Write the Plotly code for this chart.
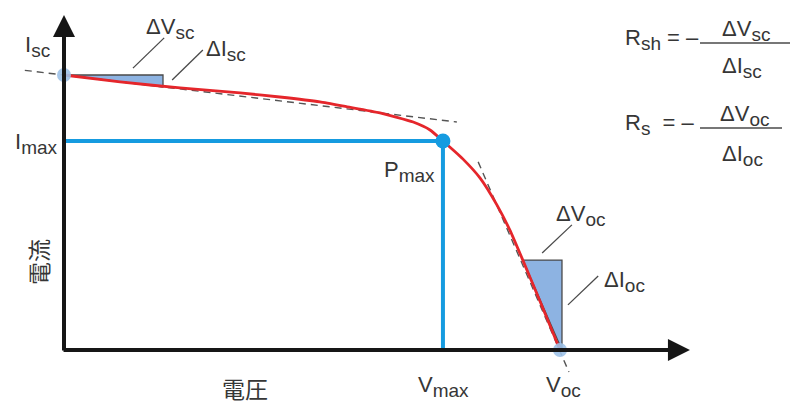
import plotly.graph_objects as go

W, H = 792, 408

# ---- data (normalised voltage V/Voc and current I/Isc) ----
voltage = [0.0, 0.113, 0.234, 0.355, 0.435, 0.516, 0.571, 0.637, 0.704, 0.738, 0.764,
           0.804, 0.839, 0.873, 0.899, 0.925, 0.962, 1.0]
current = [1.0, 0.975, 0.953, 0.935, 0.920, 0.902, 0.884, 0.862, 0.829, 0.800, 0.760,
           0.695, 0.625, 0.527, 0.436, 0.327, 0.167, 0.0]
v_max, i_max = 0.764, 0.760
v_oc, i_sc = 1.0, 1.0
# tangent lines
tan_sc_v = [-0.079, 0.792]
tan_sc_i = [1.017, 0.829]
tan_oc_v = [0.835, 1.018]
tan_oc_i = [0.684, -0.080]
# slope triangles
tri_sc_v = [0.0, 0.1996, 0.1996, 0.0]
tri_sc_i = [1.0, 1.0, 0.956, 1.0]
tri_oc_v = [0.925, 1.004, 1.004, 0.925]
tri_oc_i = [0.327, 0.327, 0.0, 0.327]
# leader lines (start, end)
leaders = {
    "dVsc": ([0.139, 0.202], [1.025, 1.135]),
    "dIsc": ([0.218, 0.280], [0.982, 1.091]),
    "dVoc": ([0.964, 1.024], [0.353, 0.455]),
    "dIoc": ([1.016, 1.077], [0.164, 0.269]),
}
# axis extents
x_axis_end = 1.262
y_axis_end = 1.218

X0, XPX = 64, 496.0   # pixel of V=0, px per unit
Y0, YPX = 350, 275.0
x_range = [(0 - X0) / XPX, (W - X0) / XPX]
y_range = [(Y0 - H) / YPX, Y0 / YPX]

FONT = "Liberation Sans Narrow, Arial Narrow, Liberation Sans, sans-serif"
CJK = "Noto Sans CJK JP"
TXT = "#363636"
RED = "#e5262b"
BLUE = "#159be0"
LBLUE = "#9fc2e8"
TRI = "#8db3e2"

fig = go.Figure()

# triangles
for tv, ti in [(tri_sc_v, tri_sc_i), (tri_oc_v, tri_oc_i)]:
    fig.add_trace(go.Scatter(x=tv, y=ti, mode="lines", fill="toself",
                             fillcolor=TRI, line=dict(color="#4a4a4a", width=1.3),
                             hoverinfo="skip"))
# tangents
for tv, ti in [(tan_sc_v, tan_sc_i), (tan_oc_v, tan_oc_i)]:
    fig.add_trace(go.Scatter(x=tv, y=ti, mode="lines",
                             line=dict(color="#555555", width=1.4, dash="7px,5px"),
                             hoverinfo="skip"))
# leader lines
for lv, li in leaders.values():
    fig.add_trace(go.Scatter(x=lv, y=li, mode="lines",
                             line=dict(color="#4a4a4a", width=1.3), hoverinfo="skip"))
# Imax / Vmax lines
fig.add_trace(go.Scatter(x=[0, v_max, v_max], y=[i_max, i_max, 0], mode="lines",
                         line=dict(color=BLUE, width=4), hoverinfo="skip"))
# I-V curve
fig.add_trace(go.Scatter(x=voltage, y=current, mode="lines",
                         line=dict(color=RED, width=2.8, shape="spline", smoothing=0.5),
                         hoverinfo="skip"))
# points
fig.add_trace(go.Scatter(x=[0, v_oc], y=[i_sc, 0], mode="markers",
                         marker=dict(color=LBLUE, size=14, opacity=0.9), hoverinfo="skip"))
fig.add_trace(go.Scatter(x=[v_max], y=[i_max], mode="markers",
                         marker=dict(color=BLUE, size=15), hoverinfo="skip"))

# axes with arrows
for (hx, hy, tx, ty) in [(x_axis_end, 0, -0.004, 0), (0, y_axis_end, 0, -0.007)]:
    fig.add_annotation(x=hx, y=hy, ax=tx, ay=ty, xref="x", yref="y", axref="x", ayref="y",
                       showarrow=True, arrowhead=2, arrowsize=1.1, arrowwidth=4,
                       arrowcolor="#161616", text="")


def sub(s, px=19):
    return f"<sub><span style='font-size:{px}px'>{s}</span></sub>"


def lab(text, px, py, size=22, family=FONT, angle=0, xanchor="center"):
    fig.add_annotation(x=px / W, y=1 - py / H, xref="paper", yref="paper",
                       text=text, showarrow=False, textangle=angle,
                       xanchor=xanchor, yanchor="middle",
                       font=dict(family=family, size=size, color=TXT))


lab("I" + sub("sc"), 37, 46)
lab("I" + sub("max"), 36, 143)
lab("P" + sub("max"), 409, 171)
lab("V" + sub("max"), 443, 386)
lab("V" + sub("oc"), 563, 386)
lab("ΔV" + sub("sc"), 170, 29)
lab("ΔI" + sub("sc"), 226, 50)
lab("ΔV" + sub("oc"), 580, 215)
lab("ΔI" + sub("oc"), 624, 281)
lab("電流", 38, 262, size=23, family=CJK, angle=-90)
lab("電圧", 245, 388, size=23, family=CJK)

# formulas
lab("R" + sub("sh") + " = –", 623, 39, xanchor="left")
lab("ΔV" + sub("sc"), 746, 31)
lab("ΔI" + sub("sc"), 742, 68)
lab("R" + sub("s") + "  = –", 623, 124, xanchor="left")
lab("ΔV" + sub("oc"), 744, 115)
lab("ΔI" + sub("oc"), 742, 155)
for (x1, x2, yy) in [(700, 790, 43), (700, 782, 128)]:
    fig.add_shape(type="line", xref="paper", yref="paper", x0=x1 / W, x1=x2 / W,
                  y0=1 - yy / H, y1=1 - yy / H, line=dict(color="#4a4a4a", width=1.5))

fig.update_layout(width=W, height=H, margin=dict(l=0, r=0, t=0, b=0),
                  paper_bgcolor="white", plot_bgcolor="white", showlegend=False,
                  xaxis=dict(range=x_range, visible=False, fixedrange=True),
                  yaxis=dict(range=y_range, visible=False, fixedrange=True))
fig.write_html("out.html", config={"displayModeBar": False},
               post_script="document.body.style.margin='0';")
